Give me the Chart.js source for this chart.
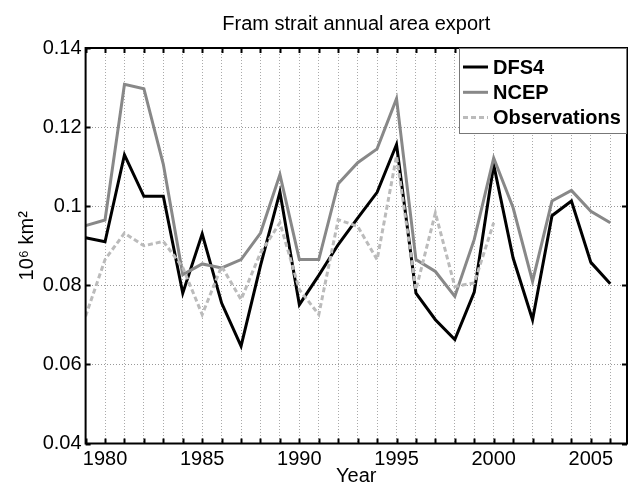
<!DOCTYPE html>
<html>
<head>
<meta charset="utf-8">
<script src="https://cdn.jsdelivr.net/npm/chart.js@4"></script>
<style>
  html, body { margin: 0; padding: 0; background: #fff; overflow: hidden; }
  #wrap { width: 628px; height: 488px; position: relative; }
</style>
</head>
<body>
<div id="wrap"><canvas id="framChart"></canvas></div>
<script>
// --- data ---
const years = [1979, 1980, 1981, 1982, 1983, 1984, 1985, 1986, 1987, 1988, 1989, 1990, 1991, 1992,
               1993, 1994, 1995, 1996, 1997, 1998, 1999, 2000, 2001, 2002, 2003, 2004, 2005, 2006];
const dfs4 = [0.092, 0.091, 0.113, 0.1025, 0.1025, 0.078, 0.093, 0.0755, 0.0646, 0.085, 0.1036, 0.0751, 0.0825, 0.0903,
              0.097, 0.1035, 0.1156, 0.078, 0.0713, 0.0663, 0.0783, 0.1105, 0.0869, 0.0713, 0.0976, 0.1013, 0.0858, 0.0804];
const ncep = [0.0951, 0.0965, 0.1308, 0.1297, 0.1106, 0.0827, 0.0854, 0.0844, 0.0865, 0.0932, 0.108, 0.0865, 0.0865, 0.1057,
              0.111, 0.1145, 0.1272, 0.0865, 0.0835, 0.0772, 0.0916, 0.1122, 0.0996, 0.081, 0.1013, 0.104, 0.0987, 0.0958];
const obs  = [0.0722, 0.0865, 0.0932, 0.09, 0.0911, 0.0845, 0.0726, 0.0848, 0.0764, 0.0882, 0.0958, 0.0789, 0.0726, 0.0966,
              0.0949, 0.0865, 0.1127, 0.0789, 0.0983, 0.0797, 0.0806, 0.0958];
const yTicks = [0.04, 0.06, 0.08, 0.1, 0.12, 0.14];
const labeledYears = [1980, 1985, 1990, 1995, 2000, 2005];

const FONT = "'Liberation Sans', Arial, Helvetica, sans-serif";
Chart.defaults.font.family = FONT;
Chart.defaults.color = '#000';

const toPoints = (vals) => vals.map((v, i) => ({ x: years[i], y: v }));

// MATLAB-like box with inward ticks + legend inside top right
const boxAndLegend = {
    id: 'boxAndLegend',
    afterDatasetsDraw(chart) {
        const { ctx, chartArea: a, scales: { x, y } } = chart;
        ctx.save();
        ctx.strokeStyle = '#000';
        ctx.lineWidth = 2;
        ctx.strokeRect(a.left, a.top, a.right - a.left, a.bottom - a.top);

        ctx.beginPath();
        years.forEach(yr => {
            const px = Math.round(x.getPixelForValue(yr)) + 0.5;
            ctx.moveTo(px, a.bottom); ctx.lineTo(px, a.bottom - 5);
            ctx.moveTo(px, a.top); ctx.lineTo(px, a.top + 5);
        });
        yTicks.forEach(v => {
            const py = Math.round(y.getPixelForValue(v)) + 0.5;
            ctx.moveTo(a.left, py); ctx.lineTo(a.left + 5, py);
            ctx.moveTo(a.right, py); ctx.lineTo(a.right - 5, py);
        });
        ctx.stroke();

        // legend
        const bw = 167, bh = 85;
        const bx = a.right - 1 - bw, by = a.top;
        ctx.fillStyle = '#fff';
        ctx.fillRect(bx, by, bw, bh);
        ctx.strokeStyle = '#777';
        ctx.lineWidth = 1;
        ctx.strokeRect(bx + 0.5, by + 0.5, bw, bh);

        ctx.font = 'bold 20px ' + FONT;
        ctx.textBaseline = 'middle';
        ctx.fillStyle = '#000';
        chart.data.datasets.forEach((ds, i) => {
            const ry = by + 19 + i * 25.3;
            ctx.beginPath();
            ctx.strokeStyle = ds.borderColor;
            ctx.lineWidth = ds.borderWidth;
            ctx.setLineDash(ds.borderDash || []);
            ctx.moveTo(bx + 4, ry); ctx.lineTo(bx + 29, ry);
            ctx.stroke();
            ctx.setLineDash([]);
            ctx.fillText(ds.label, bx + 34, ry + 1);
        });
        ctx.restore();
    }
};

new Chart(document.getElementById('framChart'), {
    type: 'line',
    data: {
        datasets: [
            { label: 'DFS4', data: toPoints(dfs4), borderColor: '#000', borderWidth: 3, order: 3 },
            { label: 'NCEP', data: toPoints(ncep), borderColor: '#888', borderWidth: 3, order: 2 },
            { label: 'Observations', data: toPoints(obs), borderColor: '#bbb', borderWidth: 3,
              borderDash: [5, 3], order: 1 }
        ]
    },
    options: {
        responsive: true, maintainAspectRatio: false, animation: false,
        layout: { padding: { left: 0, right: 1, top: 0, bottom: 0 } },
        elements: { point: { radius: 0 }, line: { tension: 0, fill: false } },
        plugins: {
            legend: { display: false },
            tooltip: { enabled: false },
            title: {
                display: true, text: 'Fram strait annual area export', fullSize: false,
                font: { size: 20, weight: 'normal' }, color: '#000',
                padding: { top: 12, bottom: 12 }
            }
        },
        scales: {
            x: {
                type: 'linear', min: 1979, max: 2006.86,
                afterFit: s => { s.height = 44.5; },
                grid: { color: '#aaa', lineWidth: 1, drawTicks: false },
                border: { display: false, dash: [1, 2] },
                ticks: {
                    stepSize: 1, autoSkip: false, includeBounds: false, maxRotation: 0, minRotation: 0,
                    padding: 4, font: { size: 20 },
                    callback: v => labeledYears.includes(v) ? String(v) : ''
                },
                title: { display: true, text: 'Year', font: { size: 20 }, padding: { top: 0, bottom: 0 } }
            },
            y: {
                min: 0.04, max: 0.14,
                afterFit: s => { s.width = 85.6; },
                grid: { color: '#999', lineWidth: 1, drawTicks: false },
                border: { display: false, dash: [1, 2] },
                ticks: {
                    stepSize: 0.02, padding: 4, font: { size: 20 },
                    callback: v => String(Number(v.toFixed(2)))
                },
                title: { display: true, text: '10⁶ km²', font: { size: 20 }, padding: { top: 15, bottom: 0 } }
            }
        }
    },
    plugins: [boxAndLegend]
});
</script>
</body>
</html>
